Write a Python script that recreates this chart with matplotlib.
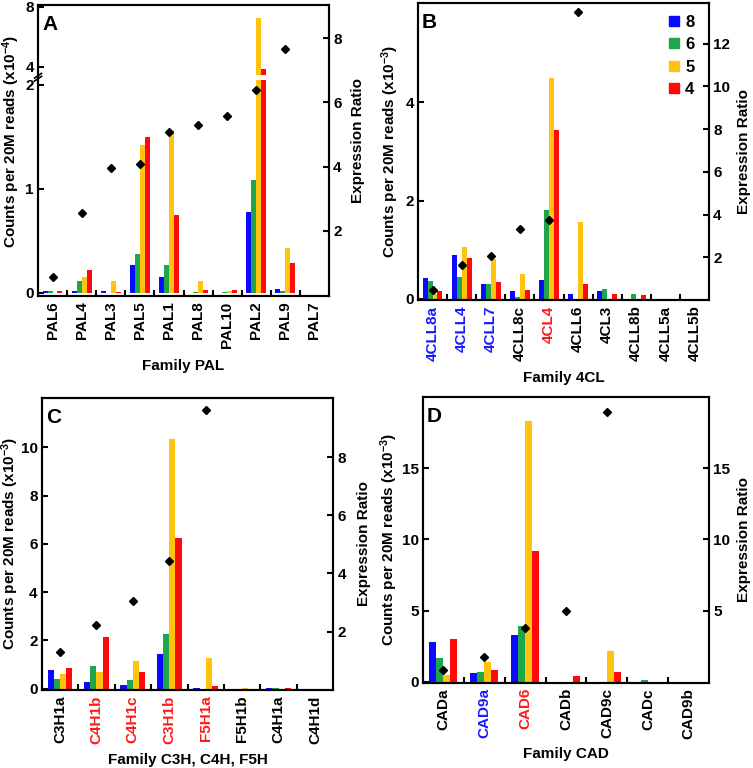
import numpy as np
import matplotlib
matplotlib.use("Agg")
import matplotlib.pyplot as plt
from matplotlib.lines import Line2D

plt.rcParams['font.family'] = ['Liberation Sans', 'DejaVu Sans']
plt.rcParams['font.weight'] = 'bold'
plt.rcParams['axes.labelweight'] = 'bold'
plt.rcParams['mathtext.fontset'] = 'custom'
plt.rcParams['mathtext.rm'] = 'Liberation Sans:bold'
plt.rcParams['mathtext.default'] = 'rm'

stages = ['8', '6', '5', '4']
colors = ['#0a0aff', '#1fa64a', '#ffc20e', '#ff0a0a']

# panel A, counts x10^-4
pal_genes = ['PAL6', 'PAL4', 'PAL3', 'PAL5', 'PAL1', 'PAL8', 'PAL10', 'PAL2', 'PAL9', 'PAL7']
pal_8 = [0.02, 0.02, 0.02, 0.27, 0.15, 0.0, 0.0, 0.78, 0.04, 0.0]
pal_6 = [0.015, 0.11, 0.0, 0.37, 0.27, 0.01, 0.005, 1.09, 0.02, 0.0]
pal_5 = [0.0, 0.15, 0.11, 1.42, 1.57, 0.11, 0.02, 7.22, 0.43, 0.0]
pal_4 = [0.015, 0.22, 0.01, 1.50, 0.75, 0.03, 0.03, 3.82, 0.29, 0.0]
pal_ratio = [0.57, 2.55, 3.96, 4.09, 5.08, 5.28, 5.58, 6.38, 7.66, np.nan]

# panel B, counts x10^-3
cl_genes = ['4CLL8a', '4CLL4', '4CLL7', '4CLL8c', '4CL4', '4CLL6', '4CL3', '4CLL8b', '4CLL5a', '4CLL5b']
cl_8 = [0.42, 0.89, 0.30, 0.16, 0.38, 0.10, 0.15, 0.0, 0.0, 0.0]
cl_6 = [0.36, 0.44, 0.30, 0.03, 1.80, 0.0, 0.19, 0.10, 0.0, 0.0]
cl_5 = [0.10, 1.06, 0.80, 0.50, 4.50, 1.57, 0.0, 0.0, 0.0, 0.0]
cl_4 = [0.15, 0.82, 0.34, 0.18, 3.44, 0.30, 0.09, 0.07, 0.0, 0.0]
cl_ratio = [0.47, 1.64, 2.08, 3.32, 3.76, 13.5, np.nan, np.nan, np.nan, np.nan]
cl_label_colors = ['#1a1aff', '#1a1aff', '#1a1aff', 'black', '#ff1a1a', 'black', 'black', 'black', 'black', 'black']

# panel C, counts x10^-3
c_genes = ['C3H1a', 'C4H1b', 'C4H1c', 'C3H1b', 'F5H1a', 'F5H1b', 'C4H1a', 'C4H1d']
c_8 = [0.76, 0.28, 0.17, 1.43, 0.04, 0.0, 0.01, 0.0]
c_6 = [0.41, 0.95, 0.37, 2.28, 0.0, 0.0, 0.01, 0.0]
c_5 = [0.60, 0.68, 1.13, 10.35, 1.28, 0.04, 0.0, 0.0]
c_4 = [0.87, 2.14, 0.68, 6.25, 0.10, 0.0, 0.01, 0.0]
c_ratio = [1.31, 2.23, 3.07, 4.43, 9.64, np.nan, np.nan, np.nan]
c_label_colors = ['black', '#ff1a1a', '#ff1a1a', '#ff1a1a', '#ff1a1a', 'black', 'black', 'black']

# panel D, counts x10^-3
cad_genes = ['CADa', 'CAD9a', 'CAD6', 'CADb', 'CAD9c', 'CADc', 'CAD9b']
cad_8 = [2.80, 0.65, 3.27, 0.0, 0.0, 0.0, 0.0]
cad_6 = [1.68, 0.70, 3.93, 0.0, 0.0, 0.14, 0.0]
cad_5 = [0.51, 1.38, 18.34, 0.0, 2.17, 0.0, 0.0]
cad_4 = [3.01, 0.86, 9.16, 0.40, 0.72, 0.0, 0.0]
cad_ratio = [0.82, 1.71, 3.79, 4.98, 18.93, np.nan, np.nan]
cad_label_colors = ['black', '#1a1aff', '#ff1a1a', 'black', 'black', 'black', 'black']

# broken left scale for panel A
LO, HI, GAP, K = 2.05, 3.47, 0.05, 0.144


def fwd(v):
    v = np.asarray(v, float)
    return np.where(v <= LO, v, np.where(v >= HI, LO + GAP + (v - HI) * K,
                                         LO + (v - LO) * GAP / (HI - LO)))


def inv(t):
    t = np.asarray(t, float)
    return np.where(t <= LO, t, np.where(t >= LO + GAP, HI + (t - LO - GAP) / K,
                                         LO + (t - LO) * (HI - LO) / GAP))


def panel(rect, letter, genes, series, ratio, label_colors, exp, xlabel,
          ylim, yticks, rlim, rticks, lcoords, rcoords, xcoord):
    ax = fig.add_axes(rect)
    x = np.arange(len(genes))
    w = 0.17
    for k, (vals, c) in enumerate(zip(series, colors)):
        ax.bar(x + (k - 1.5) * w, vals, width=w, color=c, linewidth=0)
    ax.set_xlim(-0.5, len(genes) - 0.5)
    ax.set_ylim(*ylim)
    ax.set_yticks(yticks)
    ax.set_yticklabels([str(t) for t in yticks], fontweight='bold')
    ax.set_xticks(x)
    ax.set_xticklabels(genes, rotation=90, fontsize=11, fontweight='bold')
    for lbl, c in zip(ax.get_xticklabels(), label_colors):
        lbl.set_color(c)
    ax.set_xticks(x[:-1] + 0.5, minor=True)
    ax.tick_params(axis='x', which='major', length=0, pad=4)
    ax.tick_params(axis='x', which='minor', direction='in', length=4, width=1.5)
    ax.tick_params(axis='y', direction='in', length=4, width=1.5, labelsize=11, pad=3)
    ax.set_ylabel('Counts per 20M reads (x10$^{%s}$)' % exp, fontsize=11, fontweight='bold')
    ax.yaxis.set_label_coords(*lcoords)
    ax.set_xlabel(xlabel, fontsize=11, fontweight='bold')
    ax.xaxis.set_label_coords(0.5, xcoord)
    ax.text(0.014, 0.966, letter, transform=ax.transAxes, va='top', ha='left',
            fontsize=15, fontweight='bold')
    for s in ax.spines.values():
        s.set_linewidth(1.5)

    ax2 = ax.twinx()
    ax2.plot(x, ratio, ls='', marker='D', ms=4.5, color='black')
    ax2.set_ylim(*rlim)
    ax2.set_yticks(rticks)
    ax2.set_yticklabels([str(t) for t in rticks], fontweight='bold')
    ax2.tick_params(axis='y', direction='in', length=4, width=1.5, labelsize=11, pad=3)
    ax2.set_ylabel('Expression Ratio', fontsize=11, fontweight='bold')
    ax2.yaxis.set_label_coords(*rcoords)
    for s in ax2.spines.values():
        s.set_linewidth(1.5)
    return ax, ax2


fig = plt.figure(figsize=(7.53, 7.68), dpi=100)

# A
axA, axA2 = panel([38 / 753, 1 - 296 / 768, 291 / 753, 291 / 768], 'A', pal_genes,
                  [pal_8, pal_6, pal_5, pal_4], pal_ratio, ['black'] * 10, '-4',
                  'Family PAL', (-0.03, 8.12), [0, 1, 2, 4, 8], (-0.03, 9.03), [2, 4, 6, 8],
                  (-0.055, 0.53), (1.075, 0.535), -0.216)
axA.set_yscale('function', functions=(fwd, inv))
axA.set_ylim(-0.03, 8.12)
axA.set_yticks([0, 1, 2, 4, 8])
axA.set_yticklabels(['0', '1', '2', '4', '8'], fontweight='bold')
axA.yaxis.set_minor_locator(matplotlib.ticker.NullLocator())
# white gap where PAL2 bars cross the axis break
i2 = pal_genes.index('PAL2')
axA.bar([i2 + 0.5 * 0.17, i2 + 1.5 * 0.17], HI - LO - 0.12, bottom=LO + 0.06,
        width=0.17, color='white', linewidth=0)
# break marks on the left spine
t0, t1 = fwd(-0.03), fwd(8.12)
for v in (LO + 0.3, HI - 0.3):
    f = (fwd(v) - t0) / (t1 - t0)
    axA.plot([-0.012, 0.012], [f - 0.008, f + 0.008], transform=axA.transAxes,
             color='black', lw=1.2, clip_on=False)

# B
axB, axB2 = panel([418 / 753, 1 - 300 / 768, 291 / 753, 297 / 768], 'B', cl_genes,
                  [cl_8, cl_6, cl_5, cl_4], cl_ratio, cl_label_colors, '-3',
                  'Family 4CL', (-0.03, 6.03), [0, 2, 4], (0, 13.9), [2, 4, 6, 8, 10, 12],
                  (-0.058, 0.5), (1.095, 0.5), -0.238)
handles = [Line2D([], [], ls='', marker='s', ms=7, color=c) for c in colors]
axB.legend(handles, stages, loc='upper right', bbox_to_anchor=(0.99, 1.0),
           borderaxespad=0.3, frameon=False, handlelength=0.8, handletextpad=0.3,
           labelspacing=0.45, prop={'weight': 'bold', 'size': 12})

# C
panel([41.7 / 753, 1 - 689.7 / 768, 291.6 / 753, 291.7 / 768], 'C', c_genes,
      [c_8, c_6, c_5, c_4], c_ratio, c_label_colors, '-3',
      'Family C3H, C4H, F5H', (-0.04, 12.04), [0, 2, 4, 6, 8, 10], (0, 10.04), [2, 4, 6, 8],
      (-0.07, 0.5), (1.08, 0.5), -0.216)

# D
panel([422.7 / 753, 1 - 682.5 / 768, 286.6 / 753, 285.2 / 768], 'D', cad_genes,
      [cad_8, cad_6, cad_5, cad_4], cad_ratio, cad_label_colors, '-3',
      'Family CAD', (-0.05, 19.97), [0, 5, 10, 15], (-0.05, 19.97), [5, 10, 15],
      (-0.08, 0.5), (1.095, 0.5), -0.225)

fig.savefig('out.png', dpi=100)
